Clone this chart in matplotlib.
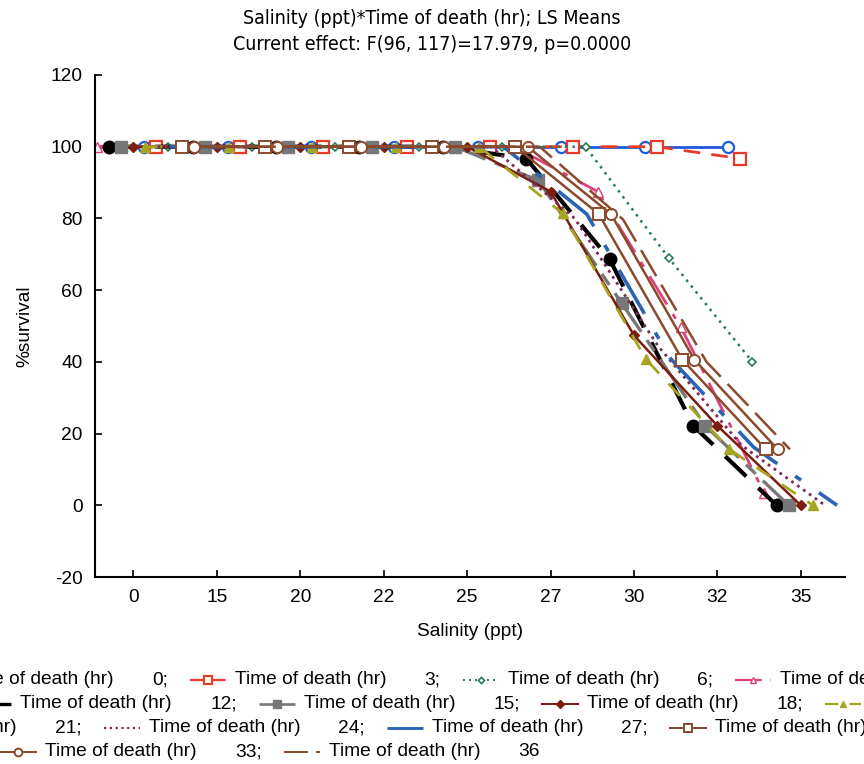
import numpy as np
import matplotlib
matplotlib.use("Agg")
import matplotlib.pyplot as plt
from matplotlib.lines import Line2D
from matplotlib import font_manager

# data
salinity = ["0", "15", "20", "22", "25", "27", "30", "32", "35"]
death_hr = [0, 3, 6, 9, 12, 15, 18, 21, 24, 27, 30, 33, 36]

surv_0h = [100, 100, 100, 100, 100, 100, 100, 100, 100]
surv_3h = [100, 100, 100, 100, 100, 100, 100, 100, 96.7]
surv_6h = [100, 100, 100, 100, 100, 100, 100, 68.9, 40.0]
surv_9h = [100, 100, 100, 100, 100, 100, 87.5, 49.6, 3.3]
surv_12h = [100, 100, 100, 100, 100, 96.7, 68.6, 22.2, 0]
surv_15h = [100, 100, 100, 100, 100, 90.6, 56.3, 22.2, 0]
surv_18h = [100, 100, 100, 100, 100, 87.5, 47.4, 22.2, 0]
surv_21h = [100, 100, 100, 100, 100, 81.4, 40.7, 15.6, 0]
surv_24h = [100, 100, 100, 100, 100, 80.0, 44.4, 16.7, 0]
surv_27h = [100, 100, 100, 100, 100, 81.2, 41.0, 16.2, 0]
surv_30h = [100, 100, 100, 100, 100, 81.2, 40.6, 15.6, np.nan]
surv_33h = [100, 100, 100, 100, 100, 81.2, 40.6, 15.6, np.nan]
surv_36h = [100, 100, 100, 100, 100, 79.7, 40.0, 15.6, np.nan]

series = [surv_0h, surv_3h, surv_6h, surv_9h, surv_12h, surv_15h, surv_18h,
          surv_21h, surv_24h, surv_27h, surv_30h, surv_33h, surv_36h]

# line styles per time of death
styles = [
    dict(color="#1f5bd8", ls="-", lw=2.0, marker="o", ms=8, mfc="white", mew=1.6),
    dict(color="#e83a28", ls=(0, (6, 4)), lw=2.0, marker="s", ms=8, mfc="white", mew=1.6),
    dict(color="#2a7a5a", ls=(0, (1, 2)), lw=1.8, marker="D", ms=4.5, mfc="white", mew=1.2),
    dict(color="#e0407a", ls=(0, (12, 4, 2, 4)), lw=2.0, marker="^", ms=6.5, mfc="white", mew=1.0),
    dict(color="#000000", ls=(0, (7, 4)), lw=3.0, marker="o", ms=9, mfc="#000000", mew=1.0),
    dict(color="#777777", ls=(0, (14, 3, 4, 3)), lw=2.4, marker="s", ms=8, mfc="#777777", mew=1.0),
    dict(color="#7a1e10", ls="-", lw=1.8, marker="D", ms=5.5, mfc="#7a1e10", mew=1.0),
    dict(color="#a5a520", ls=(0, (6, 5)), lw=2.0, marker="^", ms=7, mfc="#a5a520", mew=1.0),
    dict(color="#7a2a55", ls=(0, (1, 1.6)), lw=2.0, marker=None),
    dict(color="#2a65b5", ls=(0, (14, 6, 2, 6)), lw=2.6, marker=None),
    dict(color="#8b4a2b", ls="-", lw=1.8, marker="s", ms=8, mfc="white", mew=1.4),
    dict(color="#8b4a2b", ls="-", lw=1.8, marker="o", ms=8, mfc="white", mew=1.4),
    dict(color="#8b4a2b", ls=(0, (12, 4)), lw=1.8, marker=None),
]

W, H = 864, 764
FS = 13.8
plt.rcParams["font.family"] = ["Liberation Sans", "DejaVu Sans"]

fig = plt.figure(figsize=(W / 100, H / 100), dpi=100)
ax = fig.add_axes([95 / W, 1 - 577 / H, 750 / W, 502 / H])

x = np.arange(len(salinity))
step = 0.145
for i, vals in enumerate(series):
    off = (i - 6) * step
    ax.plot(x + off, vals, label=f"Time of death (hr) {death_hr[i]}", **styles[i])

ax.set_xlim(-0.46, 8.53)
ax.set_ylim(-20, 120)
ax.set_xticks(x)
ax.set_xticklabels(salinity)
ax.set_yticks(np.arange(-20, 121, 20))
ax.set_yticklabels([str(v) for v in range(-20, 121, 20)])
ax.tick_params(direction="in", length=5, width=1.2, labelsize=FS, pad=9)
for s in ["top", "right"]:
    ax.spines[s].set_visible(False)
for s in ["left", "bottom"]:
    ax.spines[s].set_linewidth(1.5)
ax.set_xlabel("Salinity (ppt)", fontsize=FS, labelpad=12)
ax.set_ylabel("%survival", fontsize=FS, labelpad=12)

# condensed title font if one is installed
narrow = None
for f in font_manager.fontManager.ttflist:
    if f.style != "normal" or f.weight not in (400, "normal", "regular"):
        continue
    if "Narrow" in f.name or "Condensed" in f.name or f.stretch in ("condensed", "semi-condensed"):
        if any(k in f.name for k in ("Liberation", "DejaVu Sans", "Noto Sans", "Open Sans", "Roboto")):
            if "Mono" not in f.name:
                narrow = f.fname
                break
title_props = dict(ha="center", va="center")
if narrow:
    title_props.update(fontproperties=font_manager.FontProperties(fname=narrow, size=14))
else:
    title_props.update(fontsize=14.3)
fig.text(0.5, 1 - 18 / H, "Salinity (ppt)*Time of death (hr); LS Means", **title_props)
fig.text(0.5, 1 - 45 / H, "Current effect: F(96, 117)=17.979, p=0.0000", **title_props)

# flowing legend under the plot (cut by the figure edges like the original)
renderer = fig.canvas.get_renderer()
HW, GAP_HT, GAP_TN, GAP_NH = 36, 9, 38, 22


def put_text(xp, yp, s, ha="left"):
    t = fig.text(xp / W, 1 - yp / H, s, ha=ha, va="center", fontsize=FS)
    return t.get_window_extent(renderer).width


def put_handle(xp, yp, i):
    st = dict(styles[i])
    mk = st.pop("marker")
    ms = st.pop("ms", 0)
    mfc = st.pop("mfc", None)
    mew = st.pop("mew", 1.0)
    yy = 1 - yp / H
    fig.add_artist(Line2D([xp / W, (xp + HW) / W], [yy, yy], transform=fig.transFigure,
                          color=st["color"], ls=st["ls"], lw=st["lw"] * 0.8))
    if mk:
        fig.add_artist(Line2D([(xp + HW / 2) / W], [yy], transform=fig.transFigure,
                              ls="none", marker=mk, ms=ms * 0.7, mfc=mfc,
                              mec=st["color"], mew=mew))


def num_label(i):
    return f"{death_hr[i]}" if i == len(death_hr) - 1 else f"{death_hr[i]};"


label = "Time of death (hr)"
rows = [
    (680, 152, 0, True, [1, 2, 3]),
    (704, 210, 4, True, [5, 6, 7]),
    (728, 55, 7, False, [8, 9, 10]),
    (752, 235, 11, True, [12]),
]
for yp, num_x, lead, lead_handle, rest in rows:
    tw = put_text(num_x - GAP_TN, yp, label, ha="right")
    if lead_handle:
        put_handle(num_x - GAP_TN - tw - GAP_HT - HW, yp, lead)
    cur = num_x + put_text(num_x, yp, num_label(lead)) + GAP_NH
    for i in rest:
        put_handle(cur, yp, i)
        tx = cur + HW + GAP_HT
        tw = put_text(tx, yp, label)
        nx = tx + tw + GAP_TN
        cur = nx + put_text(nx, yp, num_label(i)) + GAP_NH

fig.savefig("out.png", dpi=100)
